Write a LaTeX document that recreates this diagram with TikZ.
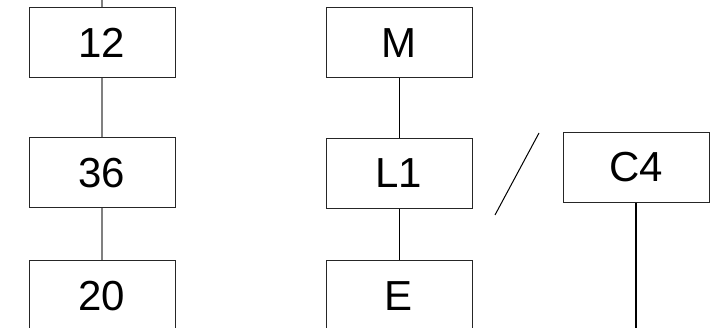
\documentclass[tikz,border=0pt]{standalone}
\usepackage{fontspec}
\setmainfont{Liberation Sans}
\usepackage{tikz}

\tikzset{
	box/.style={draw=black!85, line width=1pt, rectangle, minimum width=146pt, minimum height=70pt, inner sep=0pt, font=\fontsize{42}{42}\selectfont},
	link/.style={line width=1pt, black},
	greylink/.style={line width=1.3pt, gray}
}

\begin{document}
\begin{tikzpicture}[x=1pt,y=-1pt]
		\useasboundingbox (0,0) rectangle (723,328);
		
		% left column
		\node [box] (n12) at (102,43) {12};
		\node [box] (n36) at (102,173) {36};
		\node [box] (n20) at (102,296) {20};
		\coordinate (top12) at (102,0);
		\draw [greylink] (top12) -- (n12.north);
		\draw [greylink] (n12) -- (n36);
		\draw [greylink] (n36) -- (n20);
		
		% middle column
		\node [box] (nM) at (399,43) {M};
		\node [box] (nL1) at (399,173.5) {L1};
		\node [box] (nE) at (399,296) {E};
		\draw [link] (nM) -- (nL1);
		\draw [link] (nL1) -- (nE);
		
		% slash
		\coordinate (slashA) at (495,215);
		\coordinate (slashB) at (539,133);
		\draw [link] (slashA) -- (slashB);
		
		% right
		\node [box] (nC4) at (636,167.5) {C4};
		\coordinate (bottomC4) at (636,328);
		\draw [link, line width=1.4pt] (nC4.south) -- (bottomC4);
		
		\end{tikzpicture}
\end{document}
